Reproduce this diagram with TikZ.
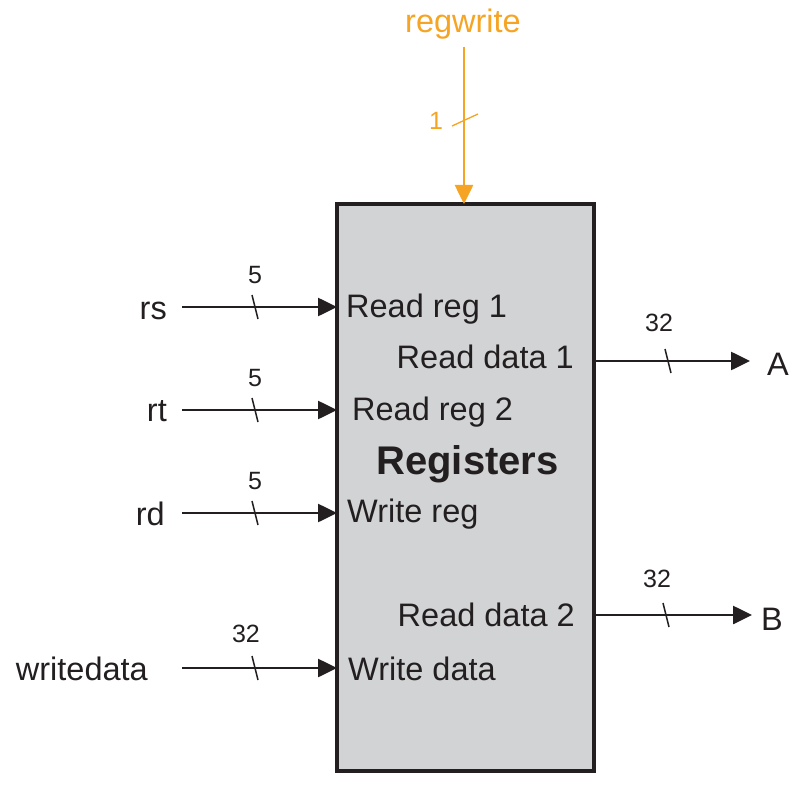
\documentclass[tikz,border=0pt]{standalone}
\usepackage{fontspec}
\setmainfont{Liberation Sans}
\usetikzlibrary{arrows.meta}
\definecolor{regor}{RGB}{246,164,35}
\definecolor{regfill}{RGB}{209,211,212}
\definecolor{ink}{RGB}{35,31,32}
\begin{document}
\begin{tikzpicture}[x=1pt,y=-1pt,
  big/.style={font=\fontsize{32.5}{39}\selectfont, text=ink, inner sep=0},
  boldtitle/.style={font=\fontsize{40}{48}\selectfont\bfseries, text=ink, inner sep=0},
  small/.style={font=\fontsize{25}{30}\selectfont, text=ink, inner sep=0},
  wire/.style={line width=2.6pt, draw=ink, -{Triangle[length=19pt,width=18pt]}},
  slashmark/.style={line width=1.5pt, draw=ink},
  regbox/.style={draw=ink, fill=regfill, line width=3.3pt, minimum width=257pt,
    minimum height=567pt, inner sep=0, outer sep=0}]
\useasboundingbox (0,0) rectangle (805,786);

% register block
\node[regbox] (reg) at (465.5,487.5) {};
\node[boldtitle, anchor=base] (title) at (467.5,474) {Registers};

% port labels inside
\node[big, anchor=base west] (rr1) at (346,317) {Read reg 1};
\node[big, anchor=base west] (rr2) at (352,420) {Read reg 2};
\node[big, anchor=base west] (wreg) at (347,522) {Write reg};
\node[big, anchor=base west] (wdat) at (348,680) {Write data};
\node[big, anchor=base east] (rd1) at (574,368) {Read data 1};
\node[big, anchor=base east] (rd2) at (575,626) {Read data 2};

% input labels
\node[big, anchor=base east] (rs) at (167,319) {rs};
\node[big, anchor=base east] (rt) at (167,421) {rt};
\node[big, anchor=base east] (rd) at (165,525) {rd};
\node[big, anchor=base east] (wdin) at (148,680) {writedata};

% input wires
\coordinate (rs-s) at (182,307);
\coordinate (rt-s) at (182,410);
\coordinate (rd-s) at (182,513);
\coordinate (wd-s) at (182,668);
\draw[wire] (rs-s) -- (rs-s -| reg.west);
\draw[wire] (rt-s) -- (rt-s -| reg.west);
\draw[wire] (rd-s) -- (rd-s -| reg.west);
\draw[wire] (wd-s) -- (wd-s -| reg.west);

% input bus slashes and widths
\draw[slashmark] (255,307) +(-3,-12) -- +(3,12);
\draw[slashmark] (255,410) +(-3,-12) -- +(3,12);
\draw[slashmark] (255,513) +(-3,-12) -- +(3,12);
\draw[slashmark] (255,668) +(-3,-12) -- +(3,12);
\node[small, anchor=base] (w1) at (255,283) {5};
\node[small, anchor=base] (w2) at (255,386) {5};
\node[small, anchor=base] (w3) at (255,489) {5};
\node[small, anchor=base] (w4) at (246,642) {32};

% outputs
\coordinate (A-e) at (750,361);
\coordinate (B-e) at (752,615);
\draw[wire] (reg.east |- A-e) -- (A-e);
\draw[wire] (reg.east |- B-e) -- (B-e);
\draw[slashmark] (668,361) +(-3,-12) -- +(3,12);
\draw[slashmark] (666,615) +(-3,-12) -- +(3,12);
\node[small, anchor=base] (w5) at (659,331) {32};
\node[small, anchor=base] (w6) at (657,587) {32};
\node[big, anchor=base] (A) at (778,375) {A};
\node[big, anchor=base] (B) at (772,630) {B};

% regwrite control
\node[big, text=regor, anchor=base] (rw) at (463,33) {regwrite};
\coordinate (rw-s) at (464,47);
\draw[wire, draw=regor, fill=regor] (rw-s) -- (rw-s |- reg.north);
\draw[line width=1.3pt, regor] (452,126) -- (478,114);
\node[small, text=regor, anchor=base] (w0) at (436,130) {1};
\end{tikzpicture}
\end{document}
